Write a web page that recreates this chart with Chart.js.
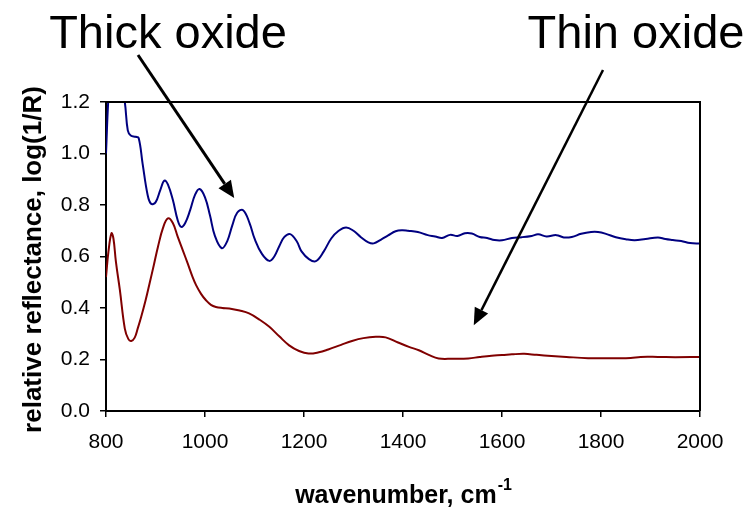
<!DOCTYPE html>
<html>
<head>
<meta charset="utf-8">
<script src="https://cdn.jsdelivr.net/npm/chart.js@4/dist/chart.umd.min.js"></script>
<style>
  html, body { margin: 0; padding: 0; background: #ffffff; }
  #wrap { width: 750px; height: 509px; }
</style>
</head>
<body>
<div id="wrap"><canvas id="c" width="750" height="509"></canvas></div>
<script>
// ---- data ----
const thickX = [800, 805, 810, 820, 830, 838, 844, 850, 860, 866, 874, 884, 891, 900, 910, 918, 925, 935, 945, 952,
  960, 970, 980, 989, 1000, 1010, 1020, 1034, 1045, 1055, 1065, 1077, 1090, 1100, 1115, 1130, 1140, 1150, 1160, 1172,
  1185, 1195, 1210, 1224, 1240, 1255, 1270, 1285, 1300, 1315, 1330, 1341, 1355, 1370, 1385, 1398, 1410, 1430, 1450, 1465,
  1479, 1495, 1510, 1525, 1539, 1555, 1570, 1585, 1600, 1620, 1640, 1660, 1673, 1690, 1710, 1725, 1741, 1760, 1780, 1794,
  1810, 1830, 1850, 1868, 1890, 1915, 1930, 1945, 1962, 1980, 2000];
const thickY = [1.00, 1.22, 1.32, 1.38, 1.28, 1.20, 1.09, 1.07, 1.065, 1.06, 0.96, 0.84, 0.805, 0.81, 0.86, 0.895, 0.88, 0.82, 0.74, 0.715,
  0.73, 0.78, 0.84, 0.862, 0.83, 0.76, 0.68, 0.632, 0.66, 0.72, 0.77, 0.78, 0.73, 0.67, 0.61, 0.583, 0.60, 0.64, 0.675, 0.687,
  0.66, 0.62, 0.59, 0.582, 0.62, 0.67, 0.70, 0.713, 0.70, 0.675, 0.655, 0.651, 0.665, 0.682, 0.698, 0.702, 0.700, 0.695, 0.683, 0.678,
  0.672, 0.684, 0.680, 0.690, 0.689, 0.676, 0.672, 0.664, 0.663, 0.672, 0.675, 0.680, 0.686, 0.678, 0.683, 0.674, 0.676, 0.688, 0.695, 0.695,
  0.688, 0.675, 0.667, 0.663, 0.668, 0.674, 0.668, 0.664, 0.660, 0.652, 0.650];

const thinX = [800, 805, 811, 815, 820, 828, 838, 845, 851, 858, 864, 871, 880, 888, 897, 905, 915, 925, 935, 945,
  955, 965, 975, 982, 992, 1002, 1012, 1022, 1035, 1049, 1070, 1089, 1110, 1130, 1150, 1170, 1190, 1209, 1230, 1249,
  1275, 1297, 1320, 1345, 1365, 1390, 1412, 1432, 1452, 1472, 1500, 1532, 1555, 1579, 1600, 1620, 1645, 1670, 1700, 1730,
  1774, 1800, 1830, 1860, 1880, 1915, 1950, 2000];
const thinY = [0.52, 0.62, 0.690, 0.67, 0.58, 0.47, 0.32, 0.28, 0.272, 0.285, 0.32, 0.365, 0.43, 0.495, 0.57, 0.638, 0.71, 0.748, 0.73, 0.676,
  0.625, 0.573, 0.52, 0.489, 0.455, 0.430, 0.412, 0.404, 0.400, 0.398, 0.390, 0.379, 0.355, 0.327, 0.290, 0.255, 0.233, 0.223, 0.228, 0.239,
  0.257, 0.272, 0.283, 0.288, 0.286, 0.266, 0.249, 0.236, 0.218, 0.204, 0.203, 0.204, 0.210, 0.215, 0.217, 0.220, 0.222, 0.218, 0.214, 0.210,
  0.205, 0.205, 0.205, 0.206, 0.210, 0.210, 0.209, 0.210];

const xTicks = [800, 1000, 1200, 1400, 1600, 1800, 2000];
const yTicks = [0.0, 0.2, 0.4, 0.6, 0.8, 1.0, 1.2];

const seriesNames = ["Thick oxide", "Thin oxide"];
const arrowTips = [[1059, 0.827], [1543, 0.333]]; // data coordinates of arrow tips

// ---- chart ----
const pts = (xs, ys) => xs.map((x, i) => ({ x: x, y: ys[i] }));

const annotate = {
  id: 'annotate',
  afterDraw(chart) {
    const ctx = chart.ctx, a = chart.chartArea;
    const xs = chart.scales.x, ys = chart.scales.y;
    ctx.save();
    // frame top & right
    ctx.strokeStyle = '#000';
    ctx.lineWidth = 2;
    ctx.beginPath();
    ctx.moveTo(a.left, a.top);
    ctx.lineTo(a.right, a.top);
    ctx.lineTo(a.right, a.bottom);
    ctx.stroke();

    // big labels
    ctx.fillStyle = '#000';
    ctx.font = '47px "Liberation Sans", Arial, sans-serif';
    ctx.textAlign = 'center';
    ctx.textBaseline = 'alphabetic';
    ctx.fillText(seriesNames[0], 168, 48);
    ctx.fillText(seriesNames[1], 636, 48);

    // arrows
    const starts = [[138, 55], [603, 70]];
    const widths = [3, 2.5];
    for (let i = 0; i < 2; i++) {
      const sx = starts[i][0], sy = starts[i][1];
      const tx = xs.getPixelForValue(arrowTips[i][0]);
      const ty = ys.getPixelForValue(arrowTips[i][1]);
      const ang = Math.atan2(ty - sy, tx - sx);
      const hl = 17, hw = 7.5;
      const bx = tx - hl * Math.cos(ang), by = ty - hl * Math.sin(ang);
      ctx.lineWidth = widths[i];
      ctx.beginPath();
      ctx.moveTo(sx, sy);
      ctx.lineTo(bx, by);
      ctx.stroke();
      ctx.beginPath();
      ctx.moveTo(tx, ty);
      ctx.lineTo(bx + hw * Math.sin(ang), by - hw * Math.cos(ang));
      ctx.lineTo(bx - hw * Math.sin(ang), by + hw * Math.cos(ang));
      ctx.closePath();
      ctx.fill();
    }

    // x axis title with superscript
    const main = 'wavenumber, cm', sup = '-1';
    ctx.font = 'bold 25px "Liberation Sans", Arial, sans-serif';
    const w1 = ctx.measureText(main).width;
    ctx.font = 'bold 16px "Liberation Sans", Arial, sans-serif';
    const w2 = ctx.measureText(sup).width;
    const cx = (a.left + a.right) / 2;
    const x0 = cx - (w1 + w2) / 2;
    ctx.textAlign = 'left';
    ctx.font = 'bold 25px "Liberation Sans", Arial, sans-serif';
    ctx.fillText(main, x0, 503);
    ctx.font = 'bold 16px "Liberation Sans", Arial, sans-serif';
    ctx.fillText(sup, x0 + w1 + 1, 490);

    // y axis title
    ctx.save();
    ctx.translate(41, (a.top + a.bottom) / 2 + 3);
    ctx.rotate(-Math.PI / 2);
    ctx.textAlign = 'center';
    ctx.font = 'bold 26px "Liberation Sans", Arial, sans-serif';
    ctx.fillText('relative reflectance, log(1/R)', 0, 0);
    ctx.restore();

    ctx.restore();
  }
};

new Chart(document.getElementById('c'), {
  type: 'line',
  data: {
    datasets: [
      { label: seriesNames[0], data: pts(thickX, thickY), borderColor: '#000080', borderWidth: 2,
        pointRadius: 0, tension: 0.4, fill: false },
      { label: seriesNames[1], data: pts(thinX, thinY), borderColor: '#800000', borderWidth: 2,
        pointRadius: 0, tension: 0.4, fill: false }
    ]
  },
  options: {
    responsive: false,
    animation: false,
    events: [],
    layout: { padding: { top: 102, right: 50, left: 0, bottom: 0 } },
    plugins: { legend: { display: false }, tooltip: { enabled: false }, title: { display: false } },
    scales: {
      x: {
        type: 'linear', min: 800, max: 2000,
        afterBuildTicks: s => { s.ticks = xTicks.map(v => ({ value: v })); },
        afterFit: s => { s.height = 98; },
        ticks: { color: '#000', padding: 13, maxRotation: 0, autoSkip: false,
          callback: v => String(v),
          font: { family: '"Liberation Sans", Arial, sans-serif', size: 21 } },
        grid: { display: true, drawOnChartArea: false, drawTicks: true, tickLength: 6, color: '#000', lineWidth: 1.5 },
        border: { display: true, color: '#000', width: 2 }
      },
      y: {
        type: 'linear', min: 0, max: 1.2,
        afterBuildTicks: s => { s.ticks = yTicks.map(v => ({ value: v })); },
        afterFit: s => { s.width = 106; },
        ticks: { color: '#000', padding: 10, autoSkip: false,
          callback: v => Number(v).toFixed(1),
          font: { family: '"Liberation Sans", Arial, sans-serif', size: 21 } },
        grid: { display: true, drawOnChartArea: false, drawTicks: true, tickLength: 6, color: '#000', lineWidth: 1.5 },
        border: { display: true, color: '#000', width: 2 }
      }
    }
  },
  plugins: [annotate]
});
</script>
</body>
</html>
